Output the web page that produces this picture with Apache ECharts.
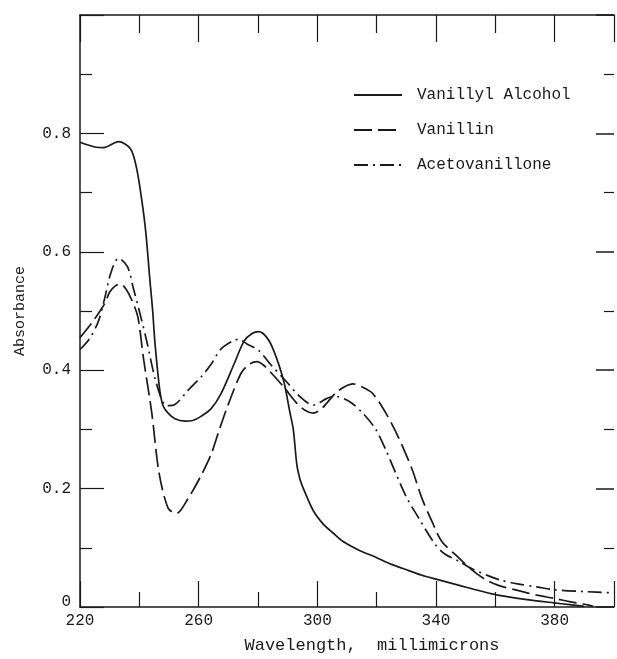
<!DOCTYPE html>
<html>
<head>
<meta charset="utf-8">
<script src="https://cdn.jsdelivr.net/npm/echarts@6/dist/echarts.min.js"></script>
<style>
    html, body { margin: 0; padding: 0; background: #fff; }
    #main { width: 617px; height: 659px; }
</style>
</head>
<body>
<div id="main"></div>
<script>
// 曲线数据 (波长 nm, 吸光度)
var alcoholNm = [220, 225, 228, 233, 237, 239, 240.8, 242.2, 243.6, 244.5, 245.3, 246.9, 248, 249.7, 252, 255.3, 258, 260.8, 264.2, 267.5, 271.9, 275.3, 278, 280.3, 283, 285.3, 288.6, 290.8, 291.9, 293.1, 294.2, 295.3, 298.6, 302, 305.3, 308.6, 314, 319.7, 325, 330.8, 335, 340, 347.5, 355, 360.8, 370, 379.7, 385, 390];
var alcoholAbs = [0.785, 0.777, 0.776, 0.786, 0.774, 0.743, 0.688, 0.632, 0.55, 0.5, 0.444, 0.366, 0.34, 0.3275, 0.318, 0.314, 0.315, 0.322, 0.335, 0.36, 0.41, 0.449, 0.462, 0.465, 0.455, 0.433, 0.383, 0.3275, 0.3, 0.24, 0.215, 0.2, 0.163, 0.14, 0.125, 0.111, 0.096, 0.084, 0.072, 0.0615, 0.054, 0.047, 0.037, 0.027, 0.02, 0.013, 0.007, 0.004, 0.001];

var vanillinNm = [220, 224, 227, 228.6, 230, 231.8, 233.6, 235.5, 237.5, 239.5, 241.4, 244.2, 246.6, 249.7, 252.5, 256.4, 260.8, 264.2, 267, 269.7, 274.2, 277, 279.7, 282, 284.2, 288.6, 293.1, 296, 298.6, 301, 303.1, 307, 312, 315, 318.6, 323.1, 327.5, 331.9, 335.3, 338.6, 341.9, 347.5, 352, 356.4, 360.8, 367.5, 374, 380, 385, 389.7, 393];
var vanillinAbs = [0.455, 0.48, 0.502, 0.515, 0.532, 0.542, 0.546, 0.537, 0.518, 0.49, 0.42, 0.3275, 0.228, 0.167, 0.158, 0.183, 0.222, 0.258, 0.3, 0.3385, 0.394, 0.41, 0.4145, 0.408, 0.397, 0.372, 0.344, 0.332, 0.3275, 0.333, 0.344, 0.365, 0.377, 0.372, 0.361, 0.3275, 0.285, 0.233, 0.183, 0.145, 0.111, 0.084, 0.063, 0.047, 0.037, 0.028, 0.02, 0.0145, 0.009, 0.005, 0.001];

var acetoNm = [220, 223, 226, 228, 230.5, 233, 236, 238, 240, 242.5, 245.8, 249.2, 252, 256.4, 260.8, 264.2, 267.5, 271.9, 273.5, 276.4, 280.3, 284.2, 289.7, 294.2, 298.6, 303.1, 305.8, 310.8, 315.3, 319.7, 323.1, 329.7, 334.2, 339.7, 343.1, 347.5, 352, 357.5, 362, 367.5, 374, 380, 390, 400];
var acetoAbs = [0.435, 0.452, 0.48, 0.515, 0.566, 0.589, 0.575, 0.538, 0.5, 0.449, 0.377, 0.34, 0.342, 0.366, 0.3885, 0.41, 0.4355, 0.4505, 0.452, 0.444, 0.433, 0.41, 0.38, 0.355, 0.341, 0.352, 0.356, 0.347, 0.3275, 0.3, 0.265, 0.189, 0.15, 0.106, 0.089, 0.078, 0.065, 0.053, 0.045, 0.039, 0.034, 0.029, 0.026, 0.024];

var seriesNames = ['Vanillyl Alcohol', 'Vanillin', 'Acetovanillone'];

function pairs(xs, ys) {
    var out = [];
    for (var i = 0; i < xs.length; i++) {
        out.push([xs[i], ys[i]]);
    }
    return out;
}

var ink = '#1a1a1a';
var font = 'Liberation Mono';

var myChart = echarts.init(document.getElementById('main'));

var option = {
    backgroundColor: '#fff',
    animation: false,
    grid: {left: 80, right: 0, top: 15, bottom: 44},
    legend: {
        orient: 'vertical',
        left: 348,
        top: 82,
        itemWidth: 48,
        itemHeight: 14,
        itemGap: 19,
        data: seriesNames,
        itemStyle: {opacity: 0},
        textStyle: {
            fontFamily: font,
            fontSize: 16,
            color: ink,
            padding: [0, 0, 0, 10]
        }
    },
    xAxis: [{
        type: 'value',
        min: 220,
        max: 400,
        interval: 40,
        name: 'Wavelength,  millimicrons',
        nameLocation: 'middle',
        nameGap: 30,
        nameTextStyle: {fontFamily: font, fontSize: 17, color: ink, padding: [0, 0, 0, 50]},
        axisLine: {onZero: false, lineStyle: {color: ink, width: 1.5}},
        axisTick: {inside: true, length: 26, lineStyle: {color: ink, width: 1.2}},
        minorTick: {show: true, splitNumber: 2, length: 15, lineStyle: {color: ink, width: 1.2}},
        axisLabel: {
            margin: 6,
            fontFamily: font,
            fontSize: 16,
            color: ink,
            formatter: function (v) {
                return v >= 400 ? '' : v;
            }
        },
        splitLine: {show: false}
    }, {
        // 顶部刻度
        type: 'value',
        position: 'top',
        min: 220,
        max: 400,
        interval: 40,
        axisLine: {show: true, onZero: false, lineStyle: {color: ink, width: 1.5}},
        axisTick: {inside: true, length: 27, lineStyle: {color: ink, width: 1.2}},
        minorTick: {show: true, splitNumber: 2, length: 18, lineStyle: {color: ink, width: 1.2}},
        axisLabel: {show: false},
        splitLine: {show: false}
    }],
    yAxis: [{
        type: 'value',
        min: 0,
        max: 1,
        interval: 0.2,
        name: 'Absorbance',
        nameLocation: 'middle',
        nameGap: 52,
        nameTextStyle: {fontFamily: font, fontSize: 15, color: ink},
        axisLine: {show: true, onZero: false, lineStyle: {color: ink, width: 1.5}},
        axisTick: {show: true, inside: true, length: 24, lineStyle: {color: ink, width: 1.2}},
        minorTick: {show: true, splitNumber: 2, length: 12, lineStyle: {color: ink, width: 1.2}},
        axisLabel: {
            margin: 9,
            fontFamily: font,
            fontSize: 16,
            color: ink,
            formatter: function (v) {
                if (v >= 1) return '';
                if (v === 0) return '{z|0}';
                return v.toFixed(1);
            },
            rich: {
                z: {fontFamily: font, fontSize: 16, color: ink, padding: [0, 0, 10, 0]}
            }
        },
        splitLine: {show: false}
    }, {
        // 右侧刻度
        type: 'value',
        position: 'right',
        min: 0,
        max: 1,
        interval: 0.2,
        axisLine: {show: false, onZero: false},
        axisTick: {show: true, inside: true, length: 18, lineStyle: {color: ink, width: 1.5}},
        minorTick: {show: true, splitNumber: 2, length: 10, lineStyle: {color: ink, width: 1.2}},
        axisLabel: {show: false},
        splitLine: {show: false}
    }],
    series: [{
        name: seriesNames[0],
        type: 'line',
        data: pairs(alcoholNm, alcoholAbs),
        smooth: 0.3,
        symbol: 'none',
        color: ink,
        lineStyle: {color: ink, width: 1.7}
    }, {
        name: seriesNames[1],
        type: 'line',
        data: pairs(vanillinNm, vanillinAbs),
        smooth: 0.3,
        symbol: 'none',
        color: ink,
        lineStyle: {color: ink, width: 1.7, type: [18, 6]}
    }, {
        name: seriesNames[2],
        type: 'line',
        data: pairs(acetoNm, acetoAbs),
        smooth: 0.3,
        symbol: 'none',
        color: ink,
        lineStyle: {color: ink, width: 1.7, type: [14, 5, 2, 5]}
    }]
};
myChart.setOption(option);
</script>
</body>
</html>
